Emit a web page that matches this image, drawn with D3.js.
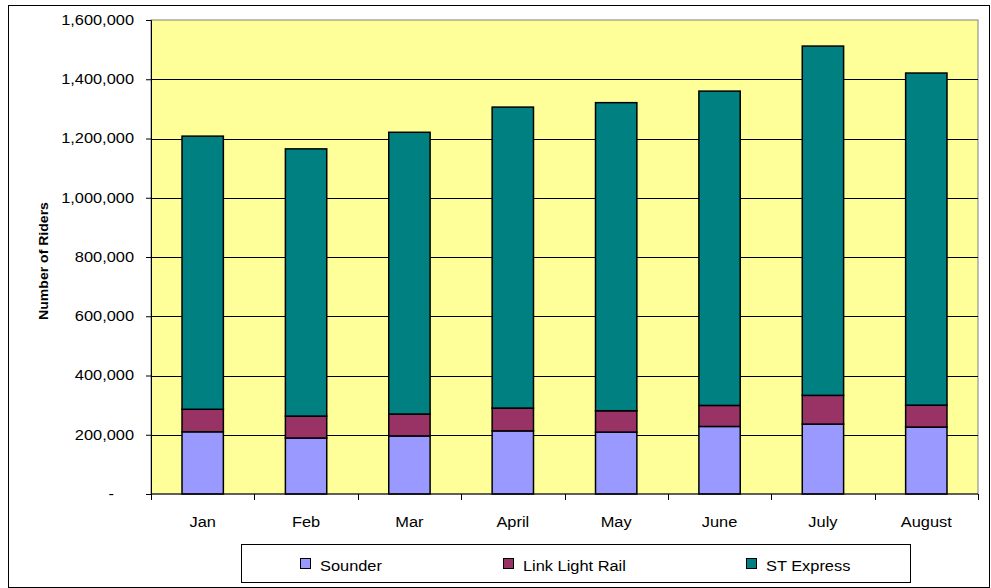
<!DOCTYPE html>
<html>
<head>
<meta charset="utf-8">
<script src="https://cdn.jsdelivr.net/npm/d3@7"></script>
<style>
  body { margin: 0; background: #fff; }
  svg { display: block; font-family: "Liberation Sans", Arial, sans-serif; }
</style>
</head>
<body>
<svg id="chart" width="991" height="588"></svg>
<script>
const months = ['Jan', 'Feb', 'Mar', 'April', 'May', 'June', 'July', 'August'];
const sounder = [210000, 189000, 196000, 213000, 209000, 228000, 236000, 226000];
const linkRail = [76000, 74000, 74000, 77000, 72000, 71000, 97000, 74000];
const stExpress = [922000, 902000, 951000, 1016000, 1040000, 1061000, 1179000, 1121000];
const seriesNames = ['Sounder', 'Link Light Rail', 'ST Express'];
const yTicks = [0, 200000, 400000, 600000, 800000, 1000000, 1200000, 1400000, 1600000];

const colors = ['#9999FF', '#993366', '#008080'];
const margin = {top: 20, left: 151, right: 13, bottom: 94};
const W = 991, H = 588;
const width = W - margin.left - margin.right;
const height = H - margin.top - margin.bottom;
const stretch = 1.17; // the reference text is drawn a bit wide

const svg = d3.select('#chart');

// outer chart frame
svg.append('rect')
  .attr('x', 8.5).attr('y', 5.5)
  .attr('width', 981).attr('height', 582)
  .attr('fill', '#fff').attr('stroke', '#000');

const chart = svg.append('g')
  .attr('transform', 'translate(' + margin.left + ',' + margin.top + ')');

const x = d3.scaleBand().domain(months).range([0, width])
  .paddingInner(0.6).paddingOuter(0.3);
const y = d3.scaleLinear().domain([0, 1600000]).range([height, 0]);

chart.append('rect')
  .attr('width', width).attr('height', height)
  .attr('fill', '#FFFF99').attr('stroke', '#808080');

// gridlines
chart.append('g')
  .selectAll('line')
  .data(yTicks.slice(1, -1))
  .enter().append('line')
  .attr('x1', 0).attr('x2', width)
  .attr('y1', d => Math.round(y(d)) + 0.5).attr('y2', d => Math.round(y(d)) + 0.5)
  .attr('stroke', '#000');

// stacked bars
const rows = months.map((m, i) => ({month: m, Sounder: sounder[i], 'Link Light Rail': linkRail[i], 'ST Express': stExpress[i]}));
const stacked = d3.stack().keys(seriesNames)(rows);

chart.append('g')
  .selectAll('g')
  .data(stacked)
  .enter().append('g')
  .attr('fill', (d, i) => colors[i])
  .selectAll('rect')
  .data(d => d)
  .enter().append('rect')
  .attr('x', d => x(d.data.month))
  .attr('y', d => y(d[1]))
  .attr('width', x.bandwidth())
  .attr('height', d => y(d[0]) - y(d[1]))
  .attr('stroke', '#000')
  .attr('stroke-width', 1.5);

// y axis
const yAxis = chart.append('g')
  .call(d3.axisLeft(y).tickValues(yTicks).tickSize(5).tickPadding(12)
    .tickFormat(d => d === 0 ? '-' : d3.format(',')(d)));
yAxis.select('.domain').attr('stroke', '#000');
yAxis.selectAll('text').attr('font-size', 14).attr('fill', '#000')
  .attr('font-family', '"Liberation Sans", Arial, sans-serif');
yAxis.selectAll('.tick text').filter(d => d === 0).attr('dx', -20);

// x axis with ticks at category boundaries
const xAxisG = chart.append('g').attr('transform', 'translate(0,' + height + ')');
xAxisG.append('line').attr('x1', 0).attr('x2', width).attr('stroke', '#000');
xAxisG.selectAll('.bt')
  .data(d3.range(months.length + 1))
  .enter().append('line')
  .attr('class', 'bt')
  .attr('x1', i => Math.round(i * x.step()) + 0.5)
  .attr('x2', i => Math.round(i * x.step()) + 0.5)
  .attr('y1', 0).attr('y2', 6)
  .attr('stroke', '#000');
xAxisG.selectAll('.lbl')
  .data(months)
  .enter().append('text')
  .attr('class', 'lbl')
  .attr('x', d => x(d) + x.bandwidth() / 2)
  .attr('y', 33)
  .attr('text-anchor', 'middle')
  .attr('font-size', 14)
  .text(d => d);

// y axis title
svg.append('text')
  .attr('transform', 'translate(48,261) rotate(-90)')
  .attr('text-anchor', 'middle')
  .attr('font-size', 12)
  .attr('font-weight', 'bold')
  .text('Number of Riders');

// legend
const legend = svg.append('g');
legend.append('rect')
  .attr('x', 241.5).attr('y', 544.5)
  .attr('width', 669).attr('height', 38)
  .attr('fill', '#fff').attr('stroke', '#000');
const legendX = [300, 503, 746];
const items = legend.selectAll('.item')
  .data(seriesNames)
  .enter().append('g')
  .attr('transform', (d, i) => 'translate(' + legendX[i] + ',558)');
items.append('rect')
  .attr('x', 0.5).attr('y', 0.5)
  .attr('width', 10).attr('height', 10)
  .attr('fill', (d, i) => colors[i])
  .attr('stroke', '#000');
items.append('text')
  .attr('x', 20).attr('y', 13)
  .attr('font-size', 14)
  .text(d => d);

// widen every label to match the reference's wide glyphs
svg.selectAll('text').each(function() {
  const len = this.getComputedTextLength();
  d3.select(this).attr('textLength', len * stretch).attr('lengthAdjust', 'spacingAndGlyphs');
});
</script>
</body>
</html>
